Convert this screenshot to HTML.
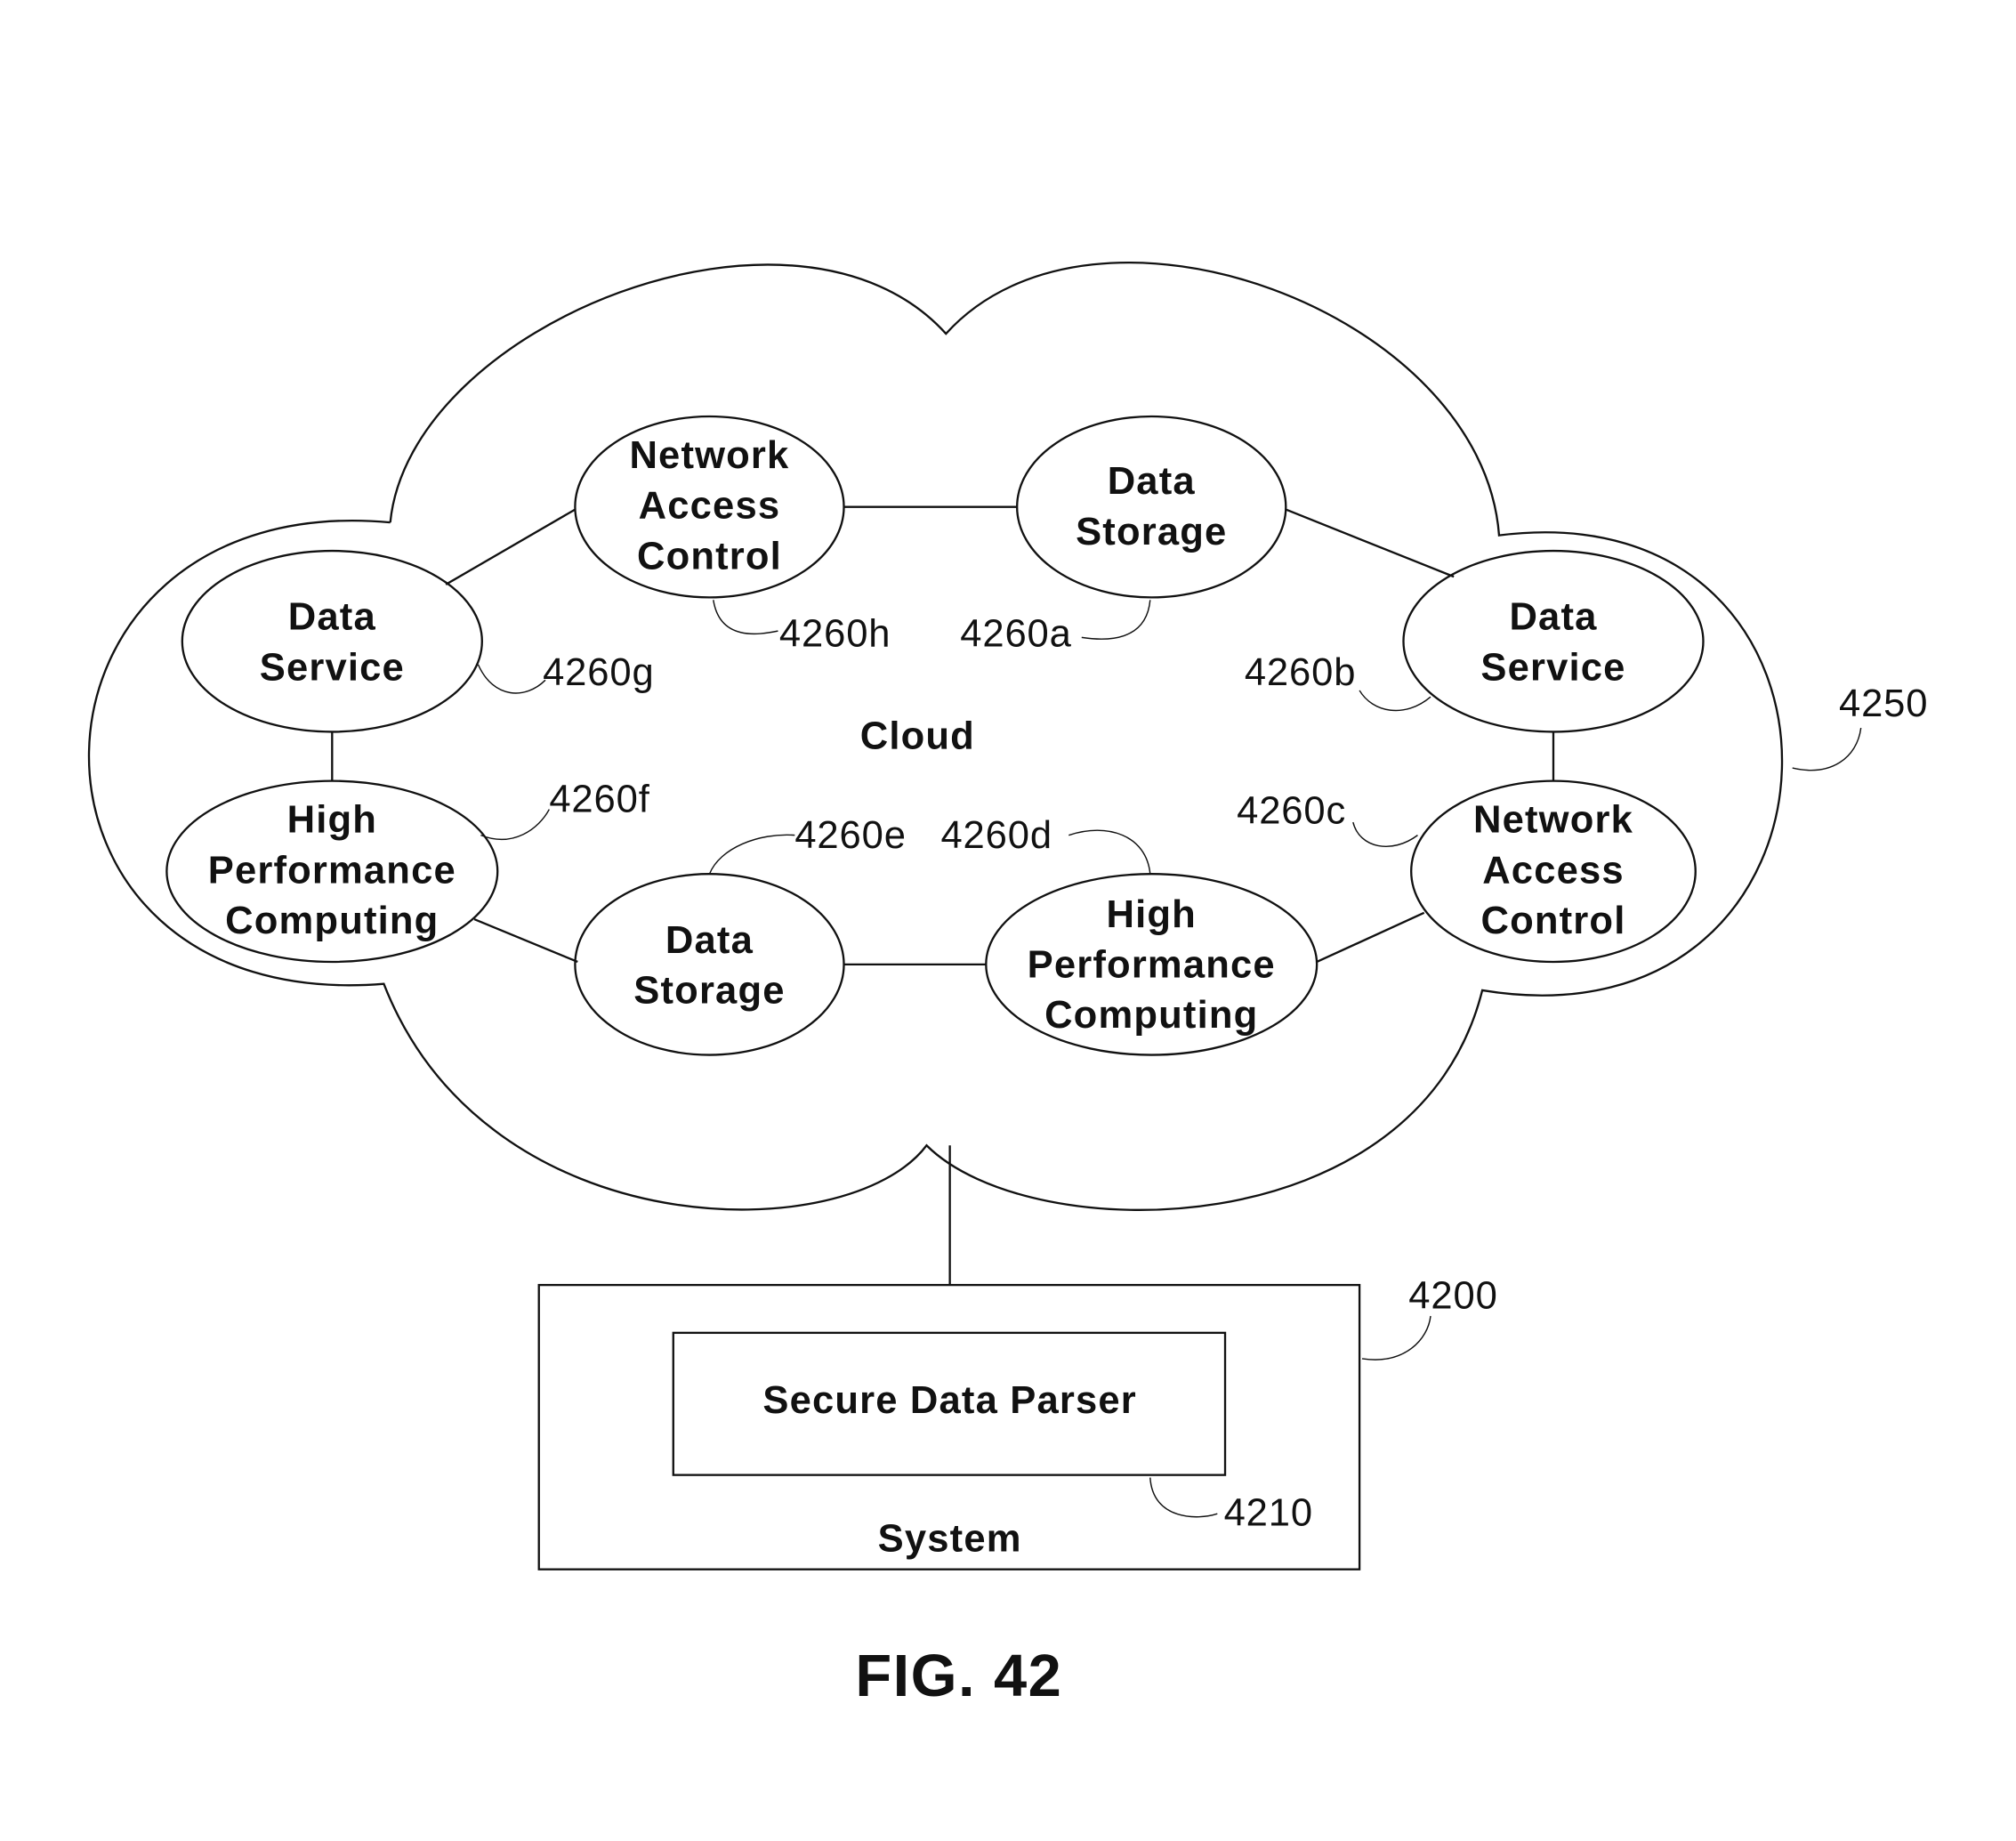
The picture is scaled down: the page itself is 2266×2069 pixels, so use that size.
<!DOCTYPE html>
<html><head><meta charset="utf-8"><style>
html,body{margin:0;padding:0;background:#fff}
svg{display:block}
.n{font-family:"Liberation Sans",sans-serif;font-weight:bold;font-size:30px;letter-spacing:0.8px;text-anchor:middle;fill:#111}
.r{font-family:"Liberation Sans",sans-serif;font-size:30px;letter-spacing:0.6px;fill:#111}
</style></head><body>
<svg width="2266" height="2069" viewBox="0 0 1560 1424" xmlns="http://www.w3.org/2000/svg">
<g transform="translate(-3,-4)">
<g fill="none" stroke="#111" stroke-width="1.6">
<path d="M305,408 C320,255 620,135 735,262 C850,135 1150,245 1163,418 C1462,380 1452,820 1150,770 C1100,970 800,970 720,890 C660,970 380,970 300,765 C-10,790 0,380 305,408"/>
<ellipse cx="552" cy="396" rx="104" ry="70"/>
<ellipse cx="894" cy="396" rx="104" ry="70"/>
<ellipse cx="260" cy="500" rx="116" ry="70"/>
<ellipse cx="1205" cy="500" rx="116" ry="70"/>
<ellipse cx="260" cy="678" rx="128" ry="70"/>
<ellipse cx="1205" cy="678" rx="110" ry="70"/>
<ellipse cx="552" cy="750" rx="104" ry="70"/>
<ellipse cx="894" cy="750" rx="128" ry="70"/>
<line x1="656" y1="396" x2="790" y2="396"/>
<line x1="348" y1="456" x2="448" y2="398"/>
<line x1="998" y1="398" x2="1128" y2="450"/>
<line x1="1205" y1="570" x2="1205" y2="608"/>
<line x1="260" y1="570" x2="260" y2="608"/>
<line x1="370" y1="715" x2="450" y2="748"/>
<line x1="656" y1="750" x2="766" y2="750"/>
<line x1="1022" y1="748" x2="1105" y2="710"/>
<line x1="738" y1="890" x2="738" y2="998"/>
<rect x="420" y="998" width="635" height="220"/>
<rect x="524" y="1035" width="427" height="110"/>
</g>
<g fill="none" stroke="#111" stroke-width="1">
<path d="M555,468 C560,500 590,495 605,492"/>
<path d="M893,468 C890,500 860,500 840,497"/>
<path d="M373,518 C385,545 410,545 425,530"/>
<path d="M1110,543 C1090,560 1065,555 1055,538"/>
<path d="M1390,598 C1420,605 1440,590 1443,567"/>
<path d="M375,650 C400,660 420,645 428,630"/>
<path d="M552,680 C560,660 590,648 618,650"/>
<path d="M893,680 C890,650 860,640 830,650"/>
<path d="M1100,650 C1080,665 1055,660 1050,640"/>
<path d="M1057,1055 C1090,1060 1108,1040 1110,1022"/>
<path d="M893,1147 C895,1180 930,1180 945,1175"/>
</g>
<text class="n" x="552" y="366">Network</text><text class="n" x="552" y="405">Access</text><text class="n" x="552" y="444">Control</text>
<text class="n" x="894" y="386">Data</text><text class="n" x="894" y="425">Storage</text>
<text class="n" x="260" y="491">Data</text><text class="n" x="260" y="530">Service</text>
<text class="n" x="1205" y="491">Data</text><text class="n" x="1205" y="530">Service</text>
<text class="n" x="260" y="648">High</text><text class="n" x="260" y="687">Performance</text><text class="n" x="260" y="726">Computing</text>
<text class="n" x="1205" y="648">Network</text><text class="n" x="1205" y="687">Access</text><text class="n" x="1205" y="726">Control</text>
<text class="n" x="552" y="741">Data</text><text class="n" x="552" y="780">Storage</text>
<text class="n" x="894" y="721">High</text><text class="n" x="894" y="760">Performance</text><text class="n" x="894" y="799">Computing</text>
<text class="n" x="713" y="583">Cloud</text>
<text class="n" x="738" y="1097">Secure Data Parser</text>
<text class="n" x="738" y="1204">System</text>
<text class="n" x="745" y="1316" style="font-size:46px;letter-spacing:1px">FIG. 42</text>
<text class="r" x="606" y="504">4260h</text>
<text class="r" x="746" y="504">4260a</text>
<text class="r" x="423" y="534">4260g</text>
<text class="r" x="966" y="534">4260b</text>
<text class="r" x="1426" y="558">4250</text>
<text class="r" x="428" y="632">4260f</text>
<text class="r" x="618" y="660">4260e</text>
<text class="r" x="731" y="660">4260d</text>
<text class="r" x="960" y="641">4260c</text>
<text class="r" x="1093" y="1016">4200</text>
<text class="r" x="950" y="1184">4210</text>
</g>
</svg>
</body></html>
